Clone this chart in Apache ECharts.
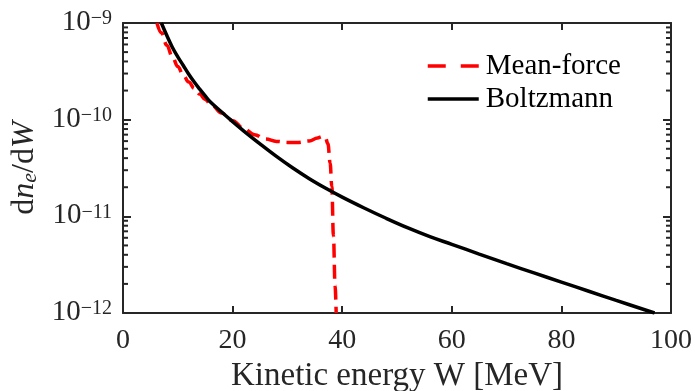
<!DOCTYPE html>
<html>
<head>
<meta charset="utf-8">
<script src="https://cdn.jsdelivr.net/npm/echarts@6/dist/echarts.min.js"></script>
<style>
html,body{margin:0;padding:0;background:#fff;}
#chart{width:695px;height:391px;}
</style>
</head>
<body>
<div id="chart"></div>
<script>
// ---- data ----
var boltzmannW = [7.0, 8.0, 9.0, 10.0, 11.0, 12.0, 13.0, 14.0, 15.0, 16.0, 18.0, 19.6, 22.0, 25.0, 28.0, 31.0, 34.0, 37.0, 40.0, 44.0, 48.0, 52.0, 56.0, 60.0, 65.0, 70.0, 75.0, 80.0, 85.0, 90.0, 97.0];
var boltzmannV = [1.0e-9, 7.41e-10, 5.62e-10, 4.47e-10, 3.63e-10, 2.95e-10, 2.45e-10, 2.07e-10, 1.76e-10, 1.51e-10, 1.20e-10, 1.0e-10, 7.67e-11, 5.62e-11, 4.17e-11, 3.16e-11, 2.45e-11, 1.95e-11, 1.58e-11, 1.22e-11, 9.55e-12, 7.59e-12, 6.17e-12, 5.13e-12, 4.07e-12, 3.24e-12, 2.60e-12, 2.09e-12, 1.68e-12, 1.35e-12, 1.0e-12];
var meanForceW = [6.2, 7.0, 8.0, 9.0, 10.0, 11.0, 12.0, 13.0, 14.0, 15.0, 16.0, 18.0, 20.0, 22.0, 24.0, 26.0, 28.0, 30.0, 32.0, 34.0, 35.5, 36.3, 36.9, 37.4, 37.8, 38.1, 38.4, 38.7, 38.9];
var meanForceV = [1.0e-9, 7.94e-10, 5.89e-10, 4.47e-10, 3.55e-10, 2.88e-10, 2.45e-10, 2.11e-10, 1.84e-10, 1.62e-10, 1.45e-10, 1.17e-10, 9.77e-11, 8.13e-11, 7.0e-11, 6.31e-11, 5.96e-11, 5.82e-11, 5.82e-11, 6.03e-11, 6.46e-11, 6.68e-11, 6.6e-11, 5.62e-11, 3.55e-11, 2.04e-11, 6.31e-12, 1.9e-12, 1.0e-12];
var seriesNames = ['Mean-force', 'Boltzmann'];
var xTicks = [0, 20, 40, 60, 80, 100];
var yMin = 1e-12, yMax = 1e-9;
var minorTicks = [2e-12,3e-12,4e-12,5e-12,6e-12,7e-12,8e-12,9e-12,
                  2e-11,3e-11,4e-11,5e-11,6e-11,7e-11,8e-11,9e-11,
                  2e-10,3e-10,4e-10,5e-10,6e-10,7e-10,8e-10,9e-10];

function pairs(xs, ys){ return xs.map(function(x,i){ return [x, ys[i]]; }); }

var axisColor = '#262626';
var font = 'Liberation Serif';

var chart = echarts.init(document.getElementById('chart'), null, {renderer:'canvas'});

function minorTickSeries(side){
  return {
    type:'custom', silent:true, xAxisIndex:0, yAxisIndex:0, clip:false,
    data: minorTicks.map(function(v){ return [side === 'left' ? xTicks[0] : xTicks[xTicks.length-1], v]; }),
    encode:{x:0, y:1},
    renderItem:function(params, api){
      var p = api.coord([api.value(0), api.value(1)]);
      var len = 5;
      var x2 = side === 'left' ? p[0] + len : p[0] - len;
      return {type:'line', shape:{x1:p[0], y1:p[1], x2:x2, y2:p[1]}, style:{stroke:axisColor, lineWidth:2}};
    },
    z:5
  };
}

var option = {
  backgroundColor:'#fff',
  animation:false,
  grid:{left:123, right:24, top:23, bottom:78, containLabel:false, outerBoundsMode:'none'},
  legend:{
    left:421, top:46, orient:'vertical',
    itemWidth:51, itemHeight:14, itemGap:3,
    itemStyle:{opacity:0},
    data:[
      {name:seriesNames[0], lineStyle:{type:[18,15], width:3.5, color:'#ff0000'}},
      {name:seriesNames[1], lineStyle:{type:'solid', width:3.5, color:'#000'}}
    ],
    textStyle:{fontFamily:font, fontSize:29, color:'#000', lineHeight:30, padding:[0,0,0,2]}
  },
  xAxis:[{
    type:'value', min:0, max:100, interval:20, position:'bottom',
    axisLine:{show:true, onZero:false, lineStyle:{color:axisColor, width:2}},
    axisTick:{show:true, inside:true, length:7, lineStyle:{color:axisColor, width:2}},
    axisLabel:{fontFamily:font, fontSize:28, color:axisColor, margin:14},
    splitLine:{show:false},
    name:'Kinetic energy W [MeV]', nameLocation:'middle', nameGap:47,
    nameTextStyle:{fontFamily:font, fontSize:33, color:axisColor}
  },{
    type:'value', min:0, max:100, interval:20, position:'top',
    axisLine:{show:true, onZero:false, lineStyle:{color:axisColor, width:2}},
    axisTick:{show:true, inside:true, length:7, lineStyle:{color:axisColor, width:2}},
    axisLabel:{show:false}, splitLine:{show:false}
  }],
  yAxis:[{
    type:'log', logBase:10, min:yMin, max:yMax, position:'left',
    axisLine:{show:true, onZero:false, lineStyle:{color:axisColor, width:2}},
    axisTick:{show:true, inside:true, length:8, lineStyle:{color:axisColor, width:2}},
    axisLabel:{
      margin:11, color:axisColor,
      formatter:function(v){ var e = Math.round(Math.log10(v)); return '{b|10}{sup|' + (e<0?'\u2212':'') + Math.abs(e) + '}'; },
      rich:{
        b:{fontFamily:font, fontSize:29, color:axisColor, verticalAlign:'bottom', lineHeight:28},
        sup:{fontFamily:font, fontSize:20, color:axisColor, verticalAlign:'top', lineHeight:20, padding:[0,0,8,0]}
      }
    },
    splitLine:{show:false},
    name:'d{i|n}{sub|e}/d{i|W}', nameLocation:'middle', nameGap:80, nameRotate:90,
    nameTextStyle:{
      fontFamily:font, fontSize:32, color:axisColor,
      rich:{
        i:{fontFamily:font, fontSize:32, fontStyle:'italic', color:axisColor},
        sub:{fontFamily:font, fontSize:22, fontStyle:'italic', color:axisColor, verticalAlign:'bottom', padding:[10,0,0,0]}
      }
    }
  },{
    type:'log', logBase:10, min:yMin, max:yMax, position:'right',
    axisLine:{show:true, onZero:false, lineStyle:{color:axisColor, width:2}},
    axisTick:{show:true, inside:true, length:8, lineStyle:{color:axisColor, width:2}},
    axisLabel:{show:false}, splitLine:{show:false}
  }],
  series:[
    {
      name:seriesNames[0], type:'line', xAxisIndex:0, yAxisIndex:0,
      data:pairs(meanForceW, meanForceV), smooth:0.4, smoothMonotone:'x', symbol:'none', clip:true,
      lineStyle:{color:'#ff0000', width:3.5, type:[14,7]}, itemStyle:{color:'#ff0000'}, z:3
    },
    {
      name:seriesNames[1], type:'line', xAxisIndex:0, yAxisIndex:0,
      data:pairs(boltzmannW, boltzmannV), smooth:0.4, symbol:'none', clip:true,
      lineStyle:{color:'#000', width:3.5}, itemStyle:{color:'#000'}, z:4
    },
    minorTickSeries('left'),
    minorTickSeries('right')
  ]
};
chart.setOption(option);
</script>
</body>
</html>
